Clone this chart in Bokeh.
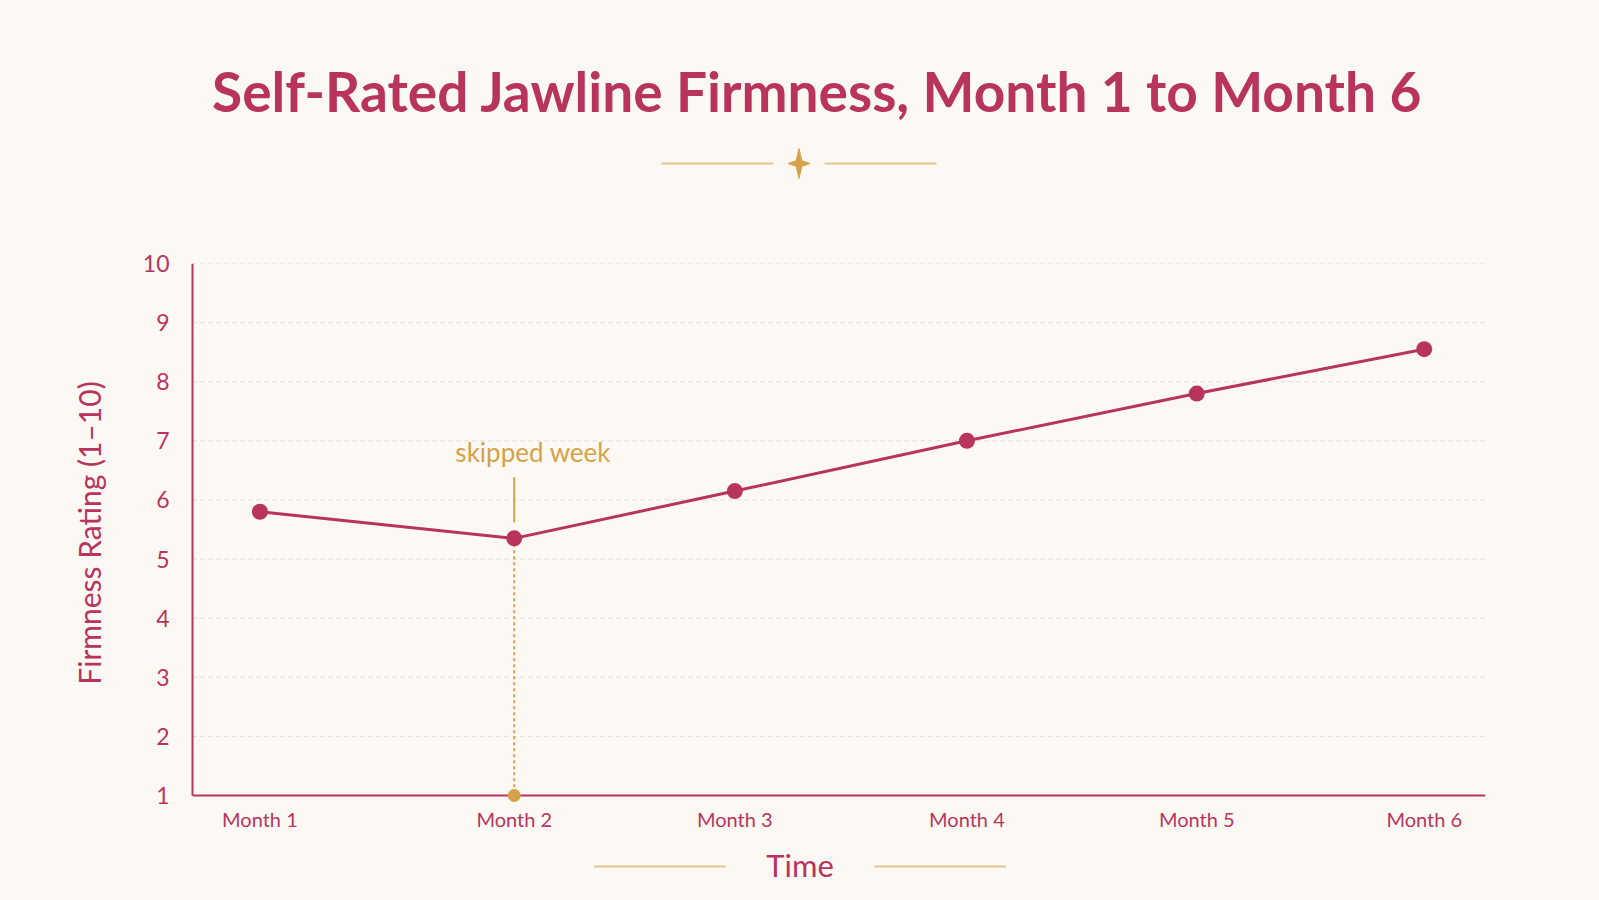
from bokeh.plotting import figure
from bokeh.layouts import column
from bokeh.models import Range1d, FixedTicker, Label
from bokeh.core.properties import value
from bokeh.embed import file_html
from bokeh.resources import INLINE

# ---- data -------------------------------------------------------------
months = ["Month 1", "Month 2", "Month 3", "Month 4", "Month 5", "Month 6"]
check_in_day = [0, 33.2, 62, 92.3, 122.3, 152]    # day of each monthly check-in
firmness = [5.8, 5.35, 6.15, 7.0, 7.8, 8.55]      # self-rated firmness, 1-10
y_ticks = [1, 2, 3, 4, 5, 6, 7, 8, 9, 10]
skipped_index = 1                                  # check-in after the skipped week

TITLE = "Self-Rated Jawline Firmness, Month 1 to Month 6"
Y_LABEL = "Firmness Rating (1\u201310)"
X_LABEL = "Time"
NOTE = "skipped week"

# ---- style ------------------------------------------------------------
BG = "#FCF9F4"
CRIMSON = "#B8345C"
GOLD = "#D6A248"
GOLD_SOFT = "#E2C68E"
GRID = "#E0D9D2"
FONT = value("Lato")

W = 1599
H_HEAD, H_MAIN, H_FOOT = 215, 630, 55
LEFT, RIGHT = 192, 114              # pixel position of the y axis / right margin
TOP = 48                            # chart border above the frame
AXIS_PX = 532                       # height of the 1..10 rating scale in pixels
PAD_L, PAD_B = 4, 7                 # room so marks on the axes are not cut off
X_START, X_END = -8.8, 160          # day range spanned by the x axis line

px_per_unit = AXIS_PX / (y_ticks[-1] - y_ticks[0])
px_per_day = (W - LEFT - RIGHT) / (X_END - X_START)


def canvas(h):
    """A pixel-space strip (heading / caption) sharing the chart's side borders."""
    f = figure(width=W, height=h, x_range=Range1d(LEFT - PAD_L, W - RIGHT),
               y_range=Range1d(0, h), toolbar_location=None, output_backend="svg",
               min_border_left=LEFT - PAD_L, min_border_right=RIGHT,
               min_border_top=0, min_border_bottom=0,
               x_axis_location=None, y_axis_location=None)
    f.grid.visible = False
    f.outline_line_color = None
    f.background_fill_color = BG
    f.border_fill_color = BG
    return f


# ---- heading ----------------------------------------------------------
head = canvas(H_HEAD)
head.text(x=[817], y=[125], text=[TITLE], text_font=FONT, text_font_style="bold",
          text_font_size="55px", text_color=CRIMSON, text_align="center",
          text_baseline="middle")
orn_y = 52
head.segment(x0=[661, 824], y0=[orn_y, orn_y], x1=[773, 936], y1=[orn_y, orn_y],
             line_color=GOLD_SOFT, line_width=2)
cx, rx, ry, k = 798.5, 11, 15, 2.8
head.patch(x=[cx, cx + k, cx + rx, cx + k, cx, cx - k, cx - rx, cx - k],
           y=[orn_y + ry, orn_y + k, orn_y, orn_y - k, orn_y - ry, orn_y - k, orn_y, orn_y + k],
           fill_color=GOLD, line_color=GOLD)

# ---- main chart -------------------------------------------------------
y0 = y_ticks[0]
p = figure(width=W, height=H_MAIN,
           x_range=Range1d(X_START - PAD_L / px_per_day, X_END),
           y_range=Range1d(y0 - PAD_B / px_per_unit, y_ticks[-1]),
           toolbar_location=None, output_backend="svg",
           min_border_left=LEFT - PAD_L, min_border_right=RIGHT,
           min_border_top=TOP, min_border_bottom=H_MAIN - TOP - AXIS_PX - PAD_B)
p.outline_line_color = None
p.background_fill_color = BG
p.border_fill_color = BG
p.grid.visible = False

p.xaxis.ticker = FixedTicker(ticks=check_in_day)
p.xaxis.major_label_overrides = {d: m for d, m in zip(check_in_day, months)}
p.yaxis.ticker = FixedTicker(ticks=y_ticks)
for ax in (p.xaxis[0], p.yaxis[0]):
    ax.axis_line_color = None
    ax.major_tick_line_color = None
    ax.minor_tick_line_color = None
    ax.major_label_text_color = CRIMSON
    ax.major_label_text_font = "Lato"
p.xaxis.major_label_text_font_size = "20px"
p.xaxis.major_label_standoff = -2
p.yaxis.major_label_text_font_size = "23px"
p.yaxis.major_label_standoff = 13
p.yaxis.axis_label = Y_LABEL
p.yaxis.axis_label_text_font = "Lato"
p.yaxis.axis_label_text_font_style = "normal"
p.yaxis.axis_label_text_font_size = "30px"
p.yaxis.axis_label_text_color = CRIMSON
p.yaxis.axis_label_standoff = 33

# dashed rating guides and the two axis lines, drawn from the axis origin
grid_levels = y_ticks[1:]
p.segment(x0=[X_START] * len(grid_levels), y0=grid_levels,
          x1=[X_END] * len(grid_levels), y1=grid_levels,
          line_color=GRID, line_width=1, line_dash="4 4")
p.segment(x0=[X_START, X_START], y0=[y0, y0], x1=[X_START, X_END], y1=[y_ticks[-1], y0],
          line_color=CRIMSON, line_width=2)

# skipped-week marker: dotted drop line to the baseline and a leader above
xs, ys = check_in_day[skipped_index], firmness[skipped_index]
p.segment(x0=[xs], y0=[ys], x1=[xs], y1=[y0], line_color=GOLD,
          line_width=2, line_dash="3 3")
p.segment(x0=[xs], y0=[ys + 16 / px_per_unit], x1=[xs], y1=[ys + 61 / px_per_unit],
          line_color=GOLD, line_width=2)
p.scatter(x=[xs], y=[y0], size=13, fill_color=GOLD, line_color=None)
p.add_layout(Label(x=xs, y=ys, x_offset=19, y_offset=86, text=NOTE,
                   text_font="Lato", text_font_size="26px", text_color=GOLD,
                   text_align="center", text_baseline="middle"))

p.line(check_in_day, firmness, line_color=CRIMSON, line_width=3)
p.scatter(check_in_day, firmness, size=16, fill_color=CRIMSON, line_color=None)

# ---- axis caption -----------------------------------------------------
foot = canvas(H_FOOT)
foot.text(x=[799.5], y=[36], text=[X_LABEL], text_font=FONT, text_font_size="31px",
          text_color=CRIMSON, text_align="center", text_baseline="middle")
foot.segment(x0=[593.5, 874], y0=[34, 34], x1=[725, 1005.5], y1=[34, 34],
             line_color=GOLD_SOFT, line_width=2)

layout = column(head, p, foot, spacing=0, styles={"background-color": BG})
open("out.html", "w").write(file_html(layout, INLINE))
